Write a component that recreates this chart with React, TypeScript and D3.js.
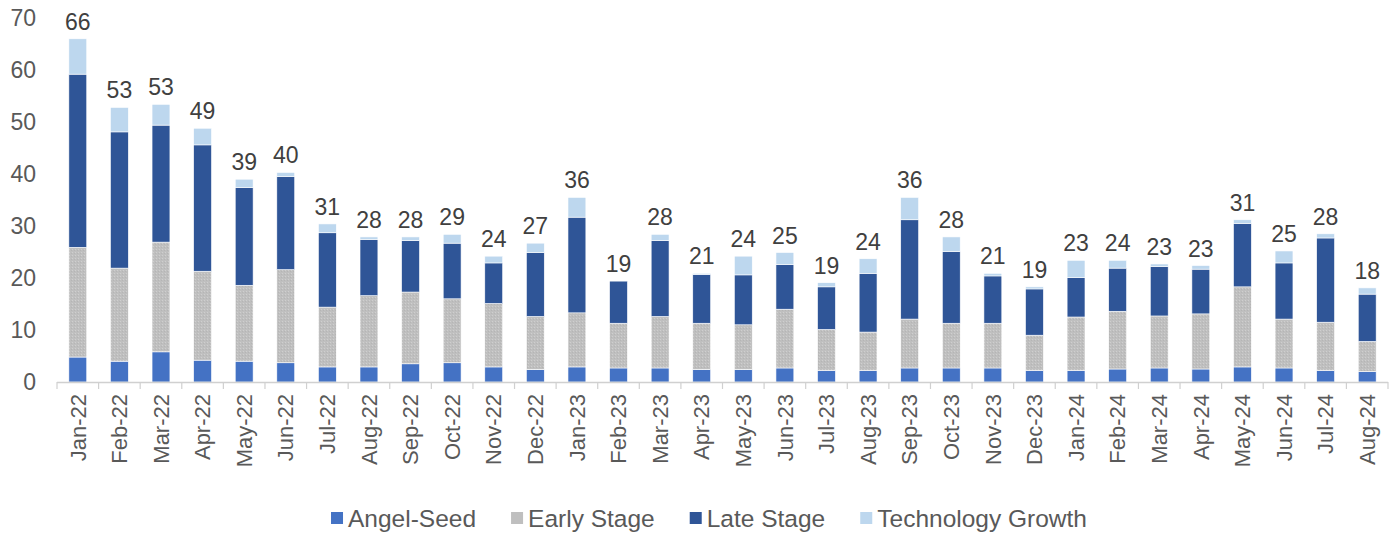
import React, { useEffect, useRef } from "react";
import * as d3 from "d3";

const months = [
  "Jan-22", "Feb-22", "Mar-22", "Apr-22", "May-22", "Jun-22", "Jul-22", "Aug-22", "Sep-22", "Oct-22", "Nov-22", "Dec-22",
  "Jan-23", "Feb-23", "Mar-23", "Apr-23", "May-23", "Jun-23", "Jul-23", "Aug-23", "Sep-23", "Oct-23", "Nov-23", "Dec-23",
  "Jan-24", "Feb-24", "Mar-24", "Apr-24", "May-24", "Jun-24", "Jul-24", "Aug-24",
];

const angelSeed = [
  4.8, 4.0, 5.8, 4.2, 4.0, 3.7, 2.9, 2.9, 3.5, 3.7, 2.9, 2.4,
  2.9, 2.7, 2.7, 2.4, 2.4, 2.7, 2.2, 2.2, 2.7, 2.7, 2.7, 2.2,
  2.2, 2.5, 2.7, 2.5, 2.9, 2.7, 2.2, 2.0,
];

const earlyStage = [
  21.1, 17.9, 21.1, 17.1, 14.6, 17.9, 11.5, 13.7, 13.8, 12.3, 12.2, 10.2,
  10.4, 8.6, 9.9, 8.9, 8.6, 11.3, 7.9, 7.4, 9.4, 8.6, 8.6, 6.8,
  10.3, 11.1, 10.0, 10.6, 15.4, 9.4, 9.3, 5.8,
];

const lateStage = [
  33.3, 26.2, 22.5, 24.3, 18.8, 17.9, 14.3, 10.8, 9.9, 10.7, 7.8, 12.3,
  18.4, 8.1, 14.6, 9.4, 9.6, 8.6, 8.2, 11.3, 19.1, 13.8, 9.1, 8.9,
  7.6, 8.3, 9.5, 8.6, 12.2, 10.8, 16.2, 9.1,
];

const techGrowth = [
  6.8, 4.7, 4.0, 3.2, 1.6, 0.8, 1.7, 0.5, 0.7, 1.7, 1.3, 1.8,
  3.8, 0.0, 1.2, 0.2, 3.6, 2.3, 0.8, 2.8, 4.3, 2.8, 0.5, 0.4,
  3.3, 1.5, 0.5, 0.7, 0.7, 2.3, 0.8, 1.2,
];

const totalLabels = [
  66, 53, 53, 49, 39, 40, 31, 28, 28, 29, 24, 27,
  36, 19, 28, 21, 24, 25, 19, 24, 36, 28, 21, 19,
  23, 24, 23, 23, 31, 25, 28, 18,
];

const seriesNames = ["Angel-Seed", "Early Stage", "Late Stage", "Technology Growth"];
const seriesColors = ["#4472C4", "url(#earlyPattern)", "#2F5597", "#BDD7EE"];
const legendColors = ["#4472C4", "#BFBFBF", "#2F5597", "#BDD7EE"];
const yTicks = [0, 10, 20, 30, 40, 50, 60, 70];

const W = 1400;
const H = 535;
const FONT = "Arial, 'Liberation Sans', sans-serif";

export default function App() {
  const ref = useRef<SVGSVGElement | null>(null);

  useEffect(() => {
    const svg = d3.select(ref.current);
    svg.selectAll("*").remove();

    const defs = svg.append("defs");
    const pat = defs
      .append("pattern")
      .attr("id", "earlyPattern")
      .attr("patternUnits", "userSpaceOnUse")
      .attr("width", 3)
      .attr("height", 3);
    pat.append("rect").attr("width", 3).attr("height", 3).attr("fill", "#BFBFBF");
    pat.append("rect").attr("x", 0).attr("y", 0).attr("width", 1).attr("height", 1).attr("fill", "#CFCFCF");
    pat.append("rect").attr("x", 2).attr("y", 1).attr("width", 1).attr("height", 1).attr("fill", "#B5B5B5");

    const x0 = 57;
    const x1 = 1388;
    const yBase = 382;
    const yTop = 18;

    const x = d3.scaleBand<string>().domain(months).range([x0, x1]).paddingInner(0.57).paddingOuter(0.285);
    const y = d3.scaleLinear().domain([0, 70]).range([yBase, yTop]);

    const rows = months.map((m, i) => ({
      month: m,
      s0: angelSeed[i],
      s1: earlyStage[i],
      s2: lateStage[i],
      s3: techGrowth[i],
    }));
    const stack = d3.stack<any>().keys(["s0", "s1", "s2", "s3"]);
    const stacked = stack(rows);

    const g = svg.append("g");
    stacked.forEach((layer, li) => {
      g.append("g")
        .selectAll("rect")
        .data(layer)
        .join("rect")
        .attr("x", (d: any) => x(d.data.month)!)
        .attr("width", x.bandwidth())
        .attr("y", (d: any) => y(d[1]))
        .attr("height", (d: any) => Math.max(0, y(d[0]) - y(d[1])))
        .attr("fill", seriesColors[li])
        .attr("stroke", "#ffffff")
        .attr("stroke-width", 0.6);
    });

    // x axis line and ticks
    svg
      .append("line")
      .attr("x1", x0)
      .attr("x2", x1)
      .attr("y1", yBase + 0.5)
      .attr("y2", yBase + 0.5)
      .attr("stroke", "#D0D0D0")
      .attr("stroke-width", 1.5);
    const step = x.step();
    const boundaries = d3.range(months.length + 1).map((i) => x0 + i * step);
    svg
      .append("g")
      .selectAll("line")
      .data(boundaries)
      .join("line")
      .attr("x1", (d) => d)
      .attr("x2", (d) => d)
      .attr("y1", yBase)
      .attr("y2", yBase + 7)
      .attr("stroke", "#D0D0D0")
      .attr("stroke-width", 1.2);

    // x labels
    svg
      .append("g")
      .selectAll("text")
      .data(months)
      .join("text")
      .attr("transform", (d) => `translate(${x(d)! + x.bandwidth() / 2},${yBase + 12}) rotate(-90)`)
      .attr("text-anchor", "end")
      .attr("dy", "0.35em")
      .attr("font-family", FONT)
      .attr("font-size", 22)
      .attr("fill", "#595959")
      .text((d) => d);

    // y labels
    svg
      .append("g")
      .selectAll("text")
      .data(yTicks)
      .join("text")
      .attr("x", 36)
      .attr("y", (d) => y(d))
      .attr("dy", "0.35em")
      .attr("text-anchor", "end")
      .attr("font-family", FONT)
      .attr("font-size", 23)
      .attr("fill", "#595959")
      .text((d) => d);

    // total labels
    const top = stacked[3];
    svg
      .append("g")
      .selectAll("text")
      .data(top)
      .join("text")
      .attr("x", (d: any) => x(d.data.month)! + x.bandwidth() / 2)
      .attr("y", (d: any) => y(d[1]) - 9)
      .attr("text-anchor", "middle")
      .attr("font-family", FONT)
      .attr("font-size", 23)
      .attr("fill", "#404040")
      .text((_d: any, i: number) => totalLabels[i]);

    // legend
    const lg = svg.append("g");
    const items = seriesNames.map((name, i) => {
      const gi = lg.append("g");
      gi.append("rect").attr("width", 12).attr("height", 12).attr("y", -6).attr("fill", legendColors[i]);
      const t = gi
        .append("text")
        .attr("x", 17)
        .attr("dy", "0.35em")
        .attr("font-family", FONT)
        .attr("font-size", 24.5)
        .attr("fill", "#595959")
        .text(name);
      const w = 17 + (t.node() as SVGTextElement).getComputedTextLength();
      return { gi, w };
    });
    const gap = 35;
    const totalW = d3.sum(items, (d) => d.w) + gap * (items.length - 1);
    let cx = 709 - totalW / 2;
    items.forEach((it) => {
      it.gi.attr("transform", `translate(${cx},518)`);
      cx += it.w + gap;
    });
  }, []);

  return (
    <svg
      ref={ref}
      width={W}
      height={H}
      style={{ position: "absolute", left: 0, top: 0, background: "#ffffff" }}
    />
  );
}
